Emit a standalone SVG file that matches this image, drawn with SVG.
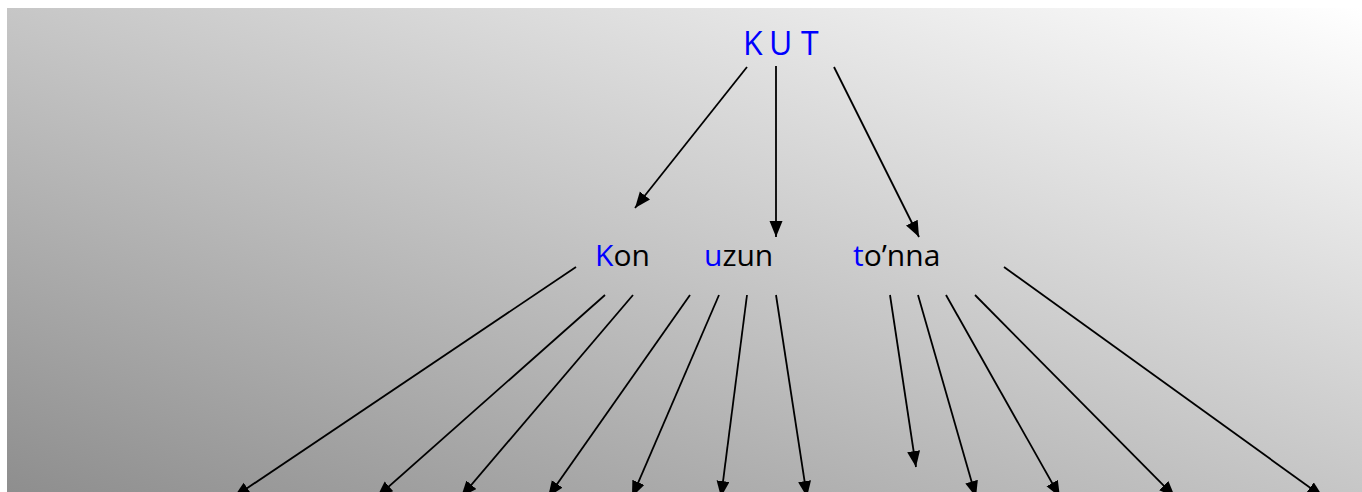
<svg xmlns="http://www.w3.org/2000/svg" width="1362" height="492" viewBox="0 0 1362 492">
<style>
.t{font-family:"Open Sans","Noto Sans","Liberation Sans",sans-serif;fill:#000}
.b{fill:#0000ff}
.c line{stroke:#000;stroke-width:1.8;marker-end:url(#ah)}
</style>
<defs>
<linearGradient id="bg" x1="0" y1="1" x2="1" y2="0">
<stop offset="0" stop-color="#8e8e8e"/>
<stop offset="1" stop-color="#ffffff"/>
</linearGradient>
<marker id="ah" markerUnits="userSpaceOnUse" markerWidth="17" markerHeight="14" refX="16" refY="6.5" orient="auto">
<path d="M0,0 L16,6.5 L0,13 Z" fill="#000"/>
</marker>
</defs>
<rect x="7" y="8" width="1355" height="484" fill="url(#bg)"/>
<g class="c" id="connectors">
<line x1="747" y1="67" x2="635" y2="208"/>
<line x1="776" y1="66" x2="776" y2="237"/>
<line x1="834" y1="67" x2="919" y2="237"/>
<line x1="576" y1="267" x2="234" y2="497"/>
<line x1="605" y1="295" x2="377" y2="497"/>
<line x1="633" y1="295" x2="461" y2="497"/>
<line x1="690" y1="295" x2="548" y2="497"/>
<line x1="719" y1="295" x2="632" y2="497"/>
<line x1="747" y1="295" x2="721" y2="497"/>
<line x1="776" y1="295" x2="807" y2="497"/>
<line x1="890" y1="295" x2="916" y2="467"/>
<line x1="918" y1="295" x2="976" y2="497"/>
<line x1="946" y1="295" x2="1060" y2="497"/>
<line x1="975" y1="295" x2="1175" y2="497"/>
<line x1="1004" y1="267" x2="1323" y2="497"/>
</g>
<g id="kut"><text class="t" x="743" y="55" font-size="32"><tspan class="b">K</tspan><tspan class="b" x="769">U</tspan><tspan class="b" x="801">T</tspan></text></g>
<g id="kon"><text class="t" x="595" y="266" font-size="30"><tspan class="b">K</tspan>on</text></g>
<g id="uzun"><text class="t" x="704" y="266" font-size="30"><tspan class="b">u</tspan>zun</text></g>
<g id="tonna"><text class="t" x="853" y="266" font-size="30"><tspan class="b">t</tspan>o’nna</text></g>
</svg>
